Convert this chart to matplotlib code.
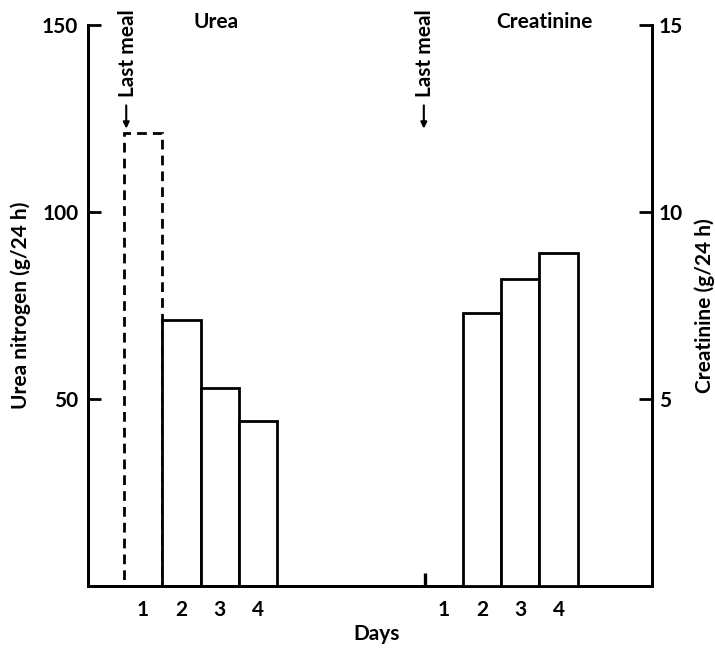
import matplotlib
matplotlib.use("Agg")
import matplotlib.pyplot as plt

# ---- data ----
days = [1, 2, 3, 4]
day_labels = ["1", "2", "3", "4"]
urea_days = [2, 3, 4]
urea_values = [71, 53, 44]            # g/24 h urea nitrogen
urea_day1_value = 121                 # dashed (day 1)
creat_days = [2, 3, 4]
creat_values = [7.3, 8.2, 8.9]        # g/24 h creatinine
creat_offset = 7.85                   # horizontal offset of the creatinine group
last_meal_marker = 0.35               # small mark at the creatinine last meal
left_ticks = [50, 100, 150]
right_ticks = [5, 10, 15]

plt.rcParams['font.family'] = ['Lato', 'DejaVu Sans']
plt.rcParams['font.weight'] = 'bold'

fig = plt.figure(figsize=(7.15, 6.49), dpi=100)
ax = fig.add_axes([0.123, 0.097, 0.789, 0.8645])
ax2 = ax.twinx()

lw = 2.0
FS = 15

ax.set_xlim(-0.44, 14.29)
ax.set_ylim(0, 150)
ax2.set_ylim(0, 15)

# dashed day-1 urea bar
ax.bar(1, urea_day1_value, width=1, fill=False, edgecolor='black',
       linewidth=lw, linestyle=(0, (3.5, 2.2)), zorder=2)
# solid urea bars
ax.bar(urea_days, urea_values, width=1, facecolor='white', edgecolor='black',
       linewidth=lw, zorder=3)

# creatinine bars
cx = [d + creat_offset for d in creat_days]
ax2.bar(cx, creat_values, width=1, facecolor='white', edgecolor='black',
        linewidth=lw, zorder=3)
# small mark at last meal (creatinine)
ax2.plot([1 + creat_offset - 0.5] * 2, [0, last_meal_marker], color='black',
         linewidth=2.4, solid_capstyle='butt')

# spines
for a in (ax, ax2):
    a.spines['top'].set_visible(False)
    for s in ('left', 'right', 'bottom'):
        a.spines[s].set_linewidth(lw)
    a.patch.set_visible(False)

ax.set_yticks(left_ticks)
ax.set_yticklabels([str(t) for t in left_ticks])
ax2.set_yticks(right_ticks)
ax2.set_yticklabels([str(t) for t in right_ticks])
ax.tick_params(axis='y', direction='in', length=9.5, width=lw, pad=7,
               labelsize=FS)
ax2.tick_params(axis='y', direction='in', length=9.5, width=lw, pad=5,
                labelsize=FS)

xt = days + [d + creat_offset for d in days]
ax.set_xticks(xt)
ax.set_xticklabels(day_labels + day_labels)
ax.tick_params(axis='x', length=0, pad=10, labelsize=FS)

ax.set_xlabel("Days", fontsize=FS, fontweight='bold')
ax.xaxis.set_label_coords(0.512, -0.068)
ax.set_ylabel("Urea nitrogen (g/24 h)", fontsize=FS, fontweight='bold',
              labelpad=8)
ax2.set_ylabel("Creatinine (g/24 h)", fontsize=FS, fontweight='bold',
               labelpad=8)

# titles
ax.text(2.9, 150.8, "Urea", ha='center', va='center', fontsize=FS,
        fontweight='bold', clip_on=False)
ax.text(11.47, 150.8, "Creatinine", ha='center', va='center', fontsize=FS,
        fontweight='bold', clip_on=False)

# last meal annotations
for x in (0.6, 1 + creat_offset - 0.48):
    ax.text(x, 142.5, "Last meal", rotation=90, ha='center', va='center',
            fontsize=FS, fontweight='bold', clip_on=False)
    ax.annotate('', xy=(x - 0.04, 122.3), xytext=(x - 0.04, 128.5),
                arrowprops=dict(arrowstyle='-|>', color='black', lw=1.5,
                                mutation_scale=9, shrinkA=0, shrinkB=0),
                annotation_clip=False)

fig.savefig("out.png", dpi=100)
